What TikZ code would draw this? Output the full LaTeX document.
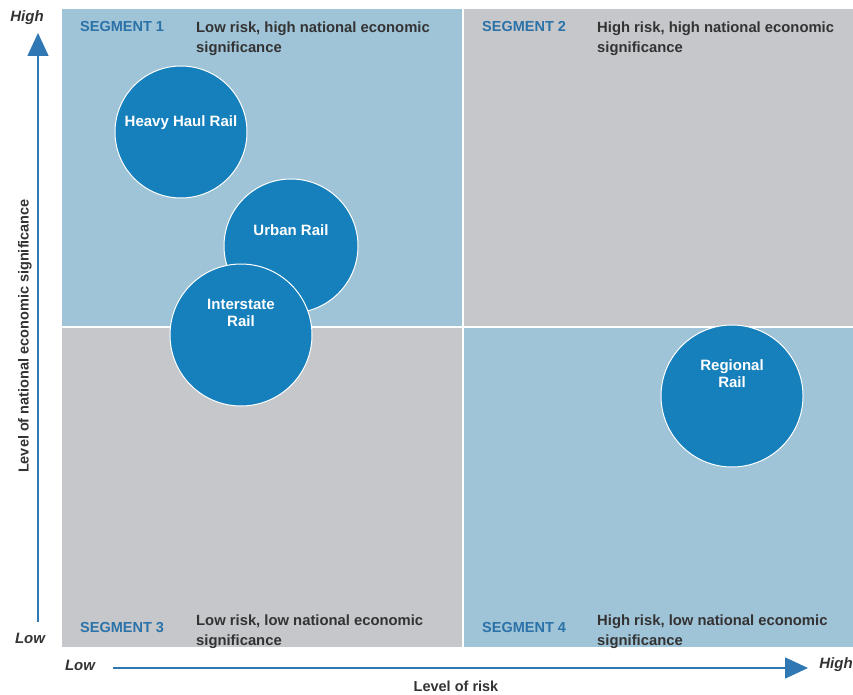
\documentclass[tikz,border=0pt]{standalone}
\usepackage{fontspec}
\setmainfont{Liberation Sans}
\usetikzlibrary{arrows.meta}
\definecolor{qblue}{HTML}{9FC3D7}
\definecolor{qgray}{HTML}{C5C7CB}
\definecolor{cblue}{HTML}{1580BC}
\definecolor{segblue}{HTML}{2B72A8}
\definecolor{txtgray}{HTML}{333333}
\definecolor{axblue}{HTML}{2F78B4}
\tikzset{
  quad/.style={draw=none, inner sep=0pt, anchor=north west},
  bubble/.style={circle, fill=cblue, draw=white, line width=1pt, inner sep=0pt},
  bubtext/.style={text=white, font=\fontsize{15}{17}\selectfont\bfseries, align=center},
  seglabel/.style={text=segblue, font=\fontsize{14.5}{16}\selectfont\bfseries, anchor=west, inner sep=0pt},
  segtext/.style={text=txtgray, font=\fontsize{14.8}{20}\selectfont\bfseries, anchor=north west, align=left, inner sep=0pt},
  axlabel/.style={text=txtgray, font=\fontsize{15}{17}\selectfont\bfseries\itshape, inner sep=0pt},
  axtitle/.style={text=txtgray, font=\fontsize{14.5}{16}\selectfont\bfseries, inner sep=0pt},
  axarrow/.style={draw=axblue, line width=1.5pt, -{Triangle[length=23pt,width=21pt]}}
}
\begin{document}
\begin{tikzpicture}[x=1pt,y=-1pt]
\useasboundingbox (0,0) rectangle (853,695);
% quadrants
\fill[qblue] (62,9) rectangle (462,326);
\fill[qgray] (464,9) rectangle (853,326);
\fill[qgray] (62,328) rectangle (462,647);
\fill[qblue] (464,328) rectangle (853,647);
% segment labels
\node[seglabel] (s1) at (80,27) {SEGMENT 1};
\node[segtext] (t1) at (196,22) {Low risk, high national economic\\significance};
\node[seglabel] (s2) at (482,27) {SEGMENT 2};
\node[segtext] (t2) at (597,22) {High risk, high national economic\\significance};
\node[seglabel] (s3) at (80,628) {SEGMENT 3};
\node[segtext] (t3) at (196,615) {Low risk, low national economic\\significance};
\node[seglabel] (s4) at (482,628) {SEGMENT 4};
\node[segtext] (t4) at (597,615) {High risk, low national economic\\significance};
% bubbles
\node[bubble, minimum size=132pt] (heavy) at (181,132) {};
\node[bubtext] (heavyt) at (181,123) {Heavy Haul Rail};
\node[bubble, minimum size=134pt] (urban) at (291,246) {};
\node[bubtext] (urbant) at (291,230) {Urban Rail};
\node[bubble, minimum size=142pt] (inter) at (241,335) {};
\node[bubtext] (intert) at (241,313) {Interstate\\Rail};
\node[bubble, minimum size=142pt] (regional) at (732,396) {};
\node[bubtext] (regionalt) at (732,374) {Regional\\Rail};
% axes
\coordinate (vstart) at (38,622);
\coordinate (vend) at (38,33);
\draw[axarrow] (vstart) -- (vend);
\node[axlabel] (vhigh) at (27,18) {High};
\node[axlabel] (vlow) at (30,638) {Low};
\node[axtitle, rotate=90] (vtitle) at (25,336) {Level of national economic significance};
\coordinate (hstart) at (113,668);
\coordinate (hend) at (808,668);
\draw[axarrow] (hstart) -- (hend);
\node[axlabel] (hlow) at (80,665) {Low};
\node[axlabel] (hhigh) at (836,665) {High};
\node[axtitle] (htitle) at (456,686) {Level of risk};
\end{tikzpicture}
\end{document}
